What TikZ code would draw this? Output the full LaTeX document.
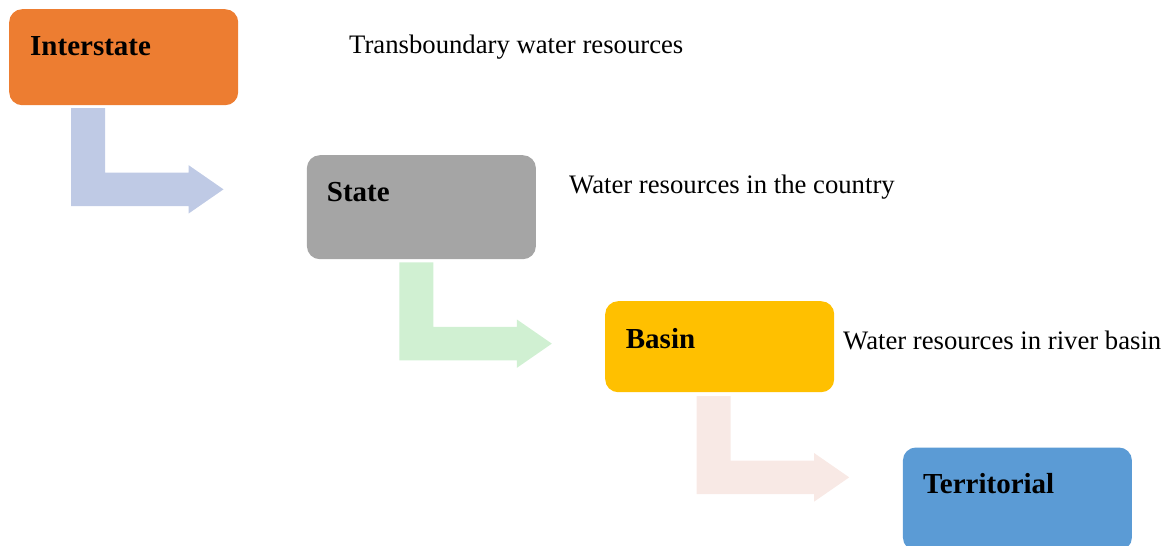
\documentclass[tikz,border=0pt]{standalone}
\usepackage{fontspec}
\setmainfont{Liberation Serif}
\usetikzlibrary{calc}

\definecolor{levelA}{HTML}{ED7D31}
\definecolor{levelB}{HTML}{A5A5A5}
\definecolor{levelC}{HTML}{FFC000}
\definecolor{levelD}{HTML}{5B9BD5}
\definecolor{bendA}{HTML}{BFCAE5}
\definecolor{bendB}{HTML}{D0F0D2}
\definecolor{bendC}{HTML}{F8E9E5}

% L-shaped block arrow: stem down from #2, then right to the tip
\newcommand\bendarrow[2]{%
  \fill[#1] (#2) -- ++(34,0) -- ++(0,64.5) -- ++(83.5,0) -- ++(0,-7.5)
    -- ++(35,24.25) -- ++(-35,24.25) -- ++(0,-7.5) -- ++(-117.5,0) -- cycle;}

\begin{document}
\begin{tikzpicture}[x=1pt,y=-1pt,
  levelbox/.style={rectangle, rounded corners=13pt, minimum width=229pt,
    inner sep=0pt, anchor=north west},
  levelname/.style={anchor=base west, inner sep=0pt,
    font=\fontsize{29}{32}\selectfont\bfseries},
  levelnote/.style={anchor=base west, inner sep=0pt,
    font=\fontsize{26.7}{30}\selectfont}]
\useasboundingbox (0,0) rectangle (1171,546);
\clip (0,0) rectangle (1171,546);

% boxes
\node[levelbox, fill=levelA, minimum height=96pt]  (inter) at (9,9) {};
\node[levelbox, fill=levelB, minimum height=104pt] (state) at (306.7,155) {};
\node[levelbox, fill=levelC, minimum height=91pt]  (basin) at (605,301) {};
\node[levelbox, fill=levelD, minimum height=103pt] (terr)  at (902.7,447.3) {};

% box titles
\node[levelname] (interT) at ($(inter.north west)+(21,46)$) {Interstate};
\node[levelname] (stateT) at ($(state.north west)+(20,46)$) {State};
\node[levelname] (basinT) at ($(basin.north west)+(20.7,47.3)$) {Basin};
\node[levelname] (terrT)  at ($(terr.north west)+(20.3,46)$) {Territorial};

% descriptions
\node[levelnote] (interN) at (349,53) {Transboundary water resources};
\node[levelnote] (stateN) at (569,193) {Water resources in the country};
\node[levelnote] (basinN) at (843,349) {Water resources in river basin};

% bent arrows between levels
\bendarrow{bendA}{$(inter.south west)+(62,2.7)$}
\bendarrow{bendB}{$(state.south west)+(92.6,3)$}
\bendarrow{bendC}{$(basin.south west)+(91.7,3.7)$}
\end{tikzpicture}
\end{document}
